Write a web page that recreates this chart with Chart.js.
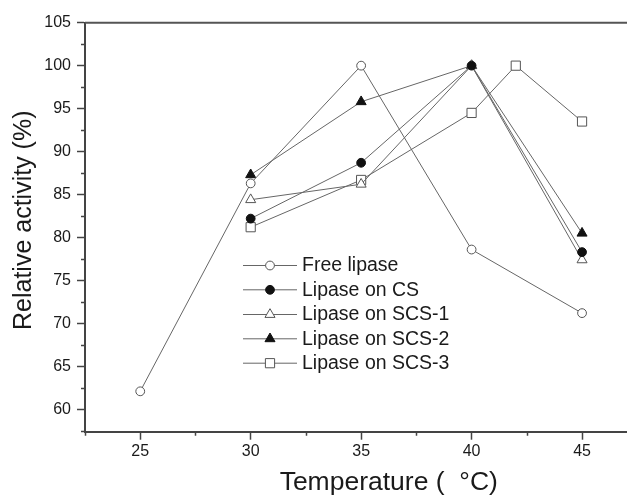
<!DOCTYPE html>
<html><head><meta charset="utf-8">
<script src="https://cdn.jsdelivr.net/npm/chart.js@4/dist/chart.umd.min.js"></script>
<style>html,body{margin:0;padding:0;overflow:hidden;background:#fff;}#wrap{width:700px;height:496px;position:relative;}</style>
</head><body><div id="wrap"><canvas id="c"></canvas></div>
<script>
const seriesNames = ['Free lipase', 'Lipase on CS', 'Lipase on SCS-1', 'Lipase on SCS-2', 'Lipase on SCS-3'];
const freeX = [25, 30, 35, 40, 45];
const freeY = [62.1, 86.3, 100, 78.6, 71.2];
const csX = [30, 35, 40, 45];
const csY = [82.2, 88.7, 100, 78.3];
const scs1X = [30, 35, 40, 45];
const scs1Y = [84.4, 86.2, 100, 77.4];
const scs2X = [30, 35, 40, 45];
const scs2Y = [87.3, 95.8, 100, 80.5];
const scs3X = [30, 35, 40, 42, 45];
const scs3Y = [81.2, 86.7, 94.5, 100, 93.5];
const xTickValues = [25, 30, 35, 40, 45];
const yTickValues = [60, 65, 70, 75, 80, 85, 90, 95, 100, 105];
const xMinorTicks = [22.5, 27.5, 32.5, 37.5, 42.5, 47.5];
const yMinorTicks = [57.5, 62.5, 67.5, 72.5, 77.5, 82.5, 87.5, 92.5, 97.5, 102.5];
const xTitle = 'Temperature (  \u00B0C)';
const yTitle = '  Relative activity (%)';

const FONT = "'Liberation Sans', Arial, Helvetica, sans-serif";
const LINE = '#666';
const pts = (xs, ys) => xs.map((x, i) => ({x: x, y: ys[i]}));
function ds(label, xs, ys, style, filled, r) {
  return {label, data: pts(xs, ys), borderColor: LINE, borderWidth: 1, pointStyle: style,
    pointRadius: r, pointHoverRadius: r, pointBorderWidth: 1,
    pointBackgroundColor: filled ? '#111' : '#fff', pointBorderColor: filled ? '#111' : '#555',
    fill: false, tension: 0};
}
const datasets = [
  ds(seriesNames[0], freeX, freeY, 'circle', false, 4.4),
  ds(seriesNames[1], csX, csY, 'circle', true, 4.4),
  ds(seriesNames[2], scs1X, scs1Y, 'triangle', false, 5.8),
  ds(seriesNames[3], scs2X, scs2Y, 'triangle', true, 5.8),
  ds(seriesNames[4], scs3X, scs3Y, 'rect', false, 6.5)
];

function marker(ctx, style, r, x, y, fill, stroke) {
  ctx.save();
  ctx.fillStyle = fill; ctx.strokeStyle = stroke; ctx.lineWidth = 1;
  ctx.beginPath();
  if (style === 'circle') { ctx.arc(x, y, r, 0, Math.PI * 2); }
  else if (style === 'triangle') {
    ctx.moveTo(x, y - r);
    ctx.lineTo(x + r * Math.sin(2 * Math.PI / 3), y - r * Math.cos(2 * Math.PI / 3));
    ctx.lineTo(x + r * Math.sin(4 * Math.PI / 3), y - r * Math.cos(4 * Math.PI / 3));
    ctx.closePath();
  } else { const s = r * Math.SQRT1_2; ctx.rect(x - s, y - s, 2 * s, 2 * s); }
  ctx.fill(); ctx.stroke();
  ctx.restore();
}

const extras = {
  id: 'extras',
  afterDraw(chart) {
    const ctx = chart.ctx, a = chart.chartArea, xs = chart.scales.x, ys = chart.scales.y;
    ctx.save();
    ctx.strokeStyle = '#555'; ctx.lineWidth = 2;
    ctx.beginPath(); ctx.moveTo(a.left, a.top); ctx.lineTo(a.right, a.top); ctx.stroke();
    ctx.strokeStyle = '#444'; ctx.lineWidth = 1.5;
    ctx.beginPath();
    xMinorTicks.forEach(v => { const px = Math.round(xs.getPixelForValue(v)) + 0.5; ctx.moveTo(px, a.bottom); ctx.lineTo(px, a.bottom + 4); });
    yMinorTicks.forEach(v => { const py = Math.round(ys.getPixelForValue(v)) + 0.5; ctx.moveTo(a.left, py); ctx.lineTo(a.left - 4, py); });
    ctx.stroke();
    const rows = [265, 289.3, 314, 338.3, 362.7];
    ctx.font = '19.5px ' + FONT; ctx.textBaseline = 'middle'; ctx.textAlign = 'left';
    chart.data.datasets.forEach((d, i) => {
      const y = rows[i];
      ctx.strokeStyle = LINE; ctx.lineWidth = 1;
      ctx.beginPath(); ctx.moveTo(243, y + 0.5); ctx.lineTo(297, y + 0.5); ctx.stroke();
      marker(ctx, d.pointStyle, d.pointRadius, 270, y + 0.5, d.pointBackgroundColor, d.pointBorderColor);
      ctx.fillStyle = '#1a1a1a';
      ctx.fillText(d.label, 302, y + 1);
    });
    ctx.restore();
  }
};

new Chart(document.getElementById('c'), {
  type: 'line',
  data: {datasets},
  plugins: [extras],
  options: {
    responsive: true, maintainAspectRatio: false, animation: false,
    layout: {padding: {top: 22.7, right: 5, left: 0, bottom: 0}},
    plugins: {legend: {display: false}, tooltip: {enabled: false}},
    scales: {
      x: {type: 'linear', min: 22.5, max: 50,
        afterBuildTicks: s => { s.ticks = xTickValues.map(v => ({value: v})); },
        afterFit: s => { s.height = 64.3; },
        grid: {display: true, drawOnChartArea: false, drawTicks: true, tickLength: 8, tickColor: '#444', tickWidth: 1.5},
        border: {display: true, color: '#444', width: 2},
        ticks: {autoSkip: false, maxRotation: 0, padding: 2, color: '#1a1a1a', font: {family: FONT, size: 16}},
        title: {display: true, text: xTitle, color: '#1a1a1a', font: {family: FONT, size: 26.5, lineHeight: 1}, padding: {top: 0, bottom: 0.5}}
      },
      y: {type: 'linear', min: 57.4, max: 105,
        afterBuildTicks: s => { s.ticks = yTickValues.map(v => ({value: v})); },
        afterFit: s => { s.width = 85; },
        grid: {display: true, drawOnChartArea: false, drawTicks: true, tickLength: 8, tickColor: '#444', tickWidth: 1.5},
        border: {display: true, color: '#444', width: 2},
        ticks: {autoSkip: false, padding: 6, color: '#1a1a1a', font: {family: FONT, size: 16}},
        title: {display: true, text: yTitle, color: '#1a1a1a', font: {family: FONT, size: 25, lineHeight: 1.2}, padding: {top: 9, bottom: 0}}
      }
    }
  }
});
</script></body></html>
